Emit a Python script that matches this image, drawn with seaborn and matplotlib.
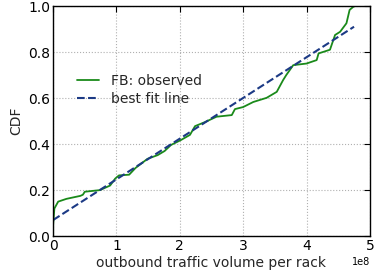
import numpy as np
import pandas as pd
import matplotlib
matplotlib.use('Agg')
import matplotlib.pyplot as plt
import seaborn as sns

# observed CDF of outbound traffic per rack (x in bytes)
obs_x = [0.0, 0.0, 0.02e8, 0.08e8, 0.21e8, 0.43e8, 0.47e8, 0.5e8, 0.74e8, 0.9e8,
         0.98e8, 1.04e8, 1.2e8, 1.3e8, 1.49e8, 1.65e8, 1.76e8, 1.86e8, 2.02e8,
         2.16e8, 2.24e8, 2.4e8, 2.58e8, 2.82e8, 2.87e8, 3.0e8, 3.16e8, 3.37e8,
         3.53e8, 3.63e8, 3.68e8, 3.79e8, 4.0e8, 4.16e8, 4.19e8, 4.37e8, 4.45e8,
         4.53e8, 4.63e8, 4.68e8, 4.74e8, 4.77e8]
obs_cdf = [0.0, 0.10, 0.12, 0.15, 0.162, 0.175, 0.18, 0.193, 0.20, 0.22,
           0.25, 0.264, 0.267, 0.296, 0.336, 0.352, 0.37, 0.396, 0.418,
           0.44, 0.478, 0.496, 0.519, 0.526, 0.552, 0.561, 0.583, 0.601,
           0.627, 0.678, 0.70, 0.743, 0.75, 0.765, 0.794, 0.81, 0.874,
           0.888, 0.925, 0.983, 0.997, 1.0]

# best fit line endpoints
fit_x = [0.0, 4.75e8]
fit_cdf = [0.07, 0.91]

sns.set_style('white')
plt.rcParams.update({
    'font.family': ['DejaVu Sans'],
    'xtick.direction': 'in', 'ytick.direction': 'in',
    'xtick.top': True, 'ytick.right': True,
    'xtick.major.size': 4, 'ytick.major.size': 4,
    'xtick.color': 'black', 'ytick.color': 'black',
    'axes.edgecolor': 'black', 'axes.linewidth': 1.0,
})

obs = pd.DataFrame({'x': obs_x, 'cdf': obs_cdf})
fit = pd.DataFrame({'x': fit_x, 'cdf': fit_cdf})

fig = plt.figure(figsize=(3.74, 2.73), dpi=100)
ax = fig.add_axes([0.142, 0.135, 0.847, 0.843])

sns.lineplot(data=obs, x='x', y='cdf', ax=ax, color='#1a8a1a', lw=1.3,
             label='FB: observed', sort=False)
sns.lineplot(data=fit, x='x', y='cdf', ax=ax, color='#1c3a85', lw=1.5,
             linestyle='--', dashes=(3.5, 2.5), label='best fit line')

ax.set_xlim(0, 5e8)
ax.set_ylim(0, 1.0)
ax.set_xticks([0, 1e8, 2e8, 3e8, 4e8, 5e8])
ax.set_yticks([0, 0.2, 0.4, 0.6, 0.8, 1.0])
ax.set_yticklabels(['0.0', '0.2', '0.4', '0.6', '0.8', '1.0'])
ax.tick_params(labelsize=10, pad=2)
ax.xaxis.get_offset_text().set_fontsize(7)
ax.grid(True, linestyle=':', color='#b0b0b0', lw=0.8)
ax.set_xlabel('outbound traffic volume per rack', fontsize=10, labelpad=2)
ax.set_ylabel('CDF', fontsize=10, labelpad=4)

ax.legend(loc='upper left', bbox_to_anchor=(0.035, 0.76), frameon=False,
          fontsize=10, handlelength=1.6, handletextpad=0.9, labelspacing=0.3)

fig.savefig('out.png', dpi=100)
